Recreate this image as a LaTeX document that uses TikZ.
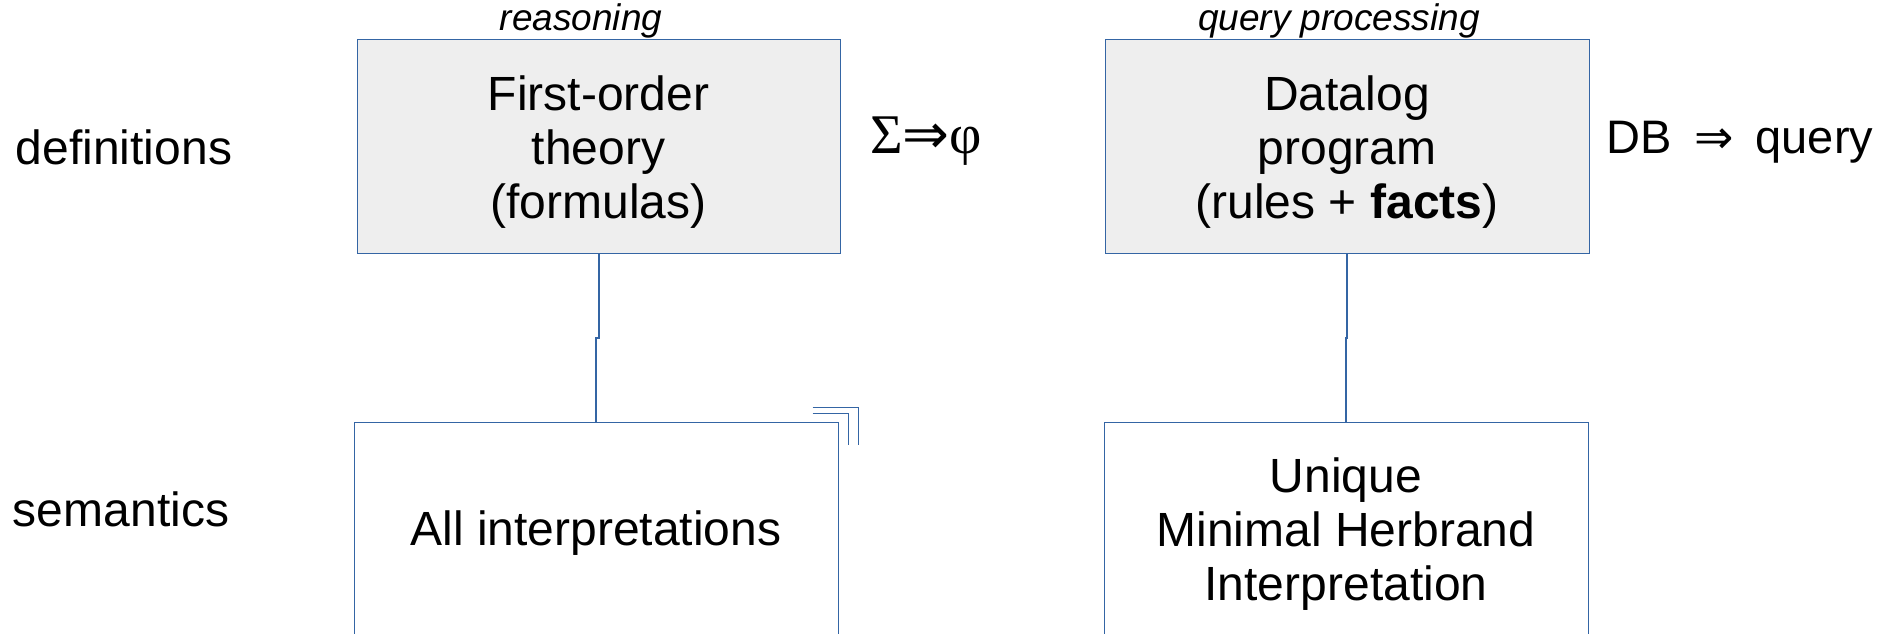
\documentclass[tikz,border=0pt]{standalone}
\usepackage{fontspec}
\setmainfont{Liberation Sans}
\newfontfamily\serifsym{Liberation Serif}
\newfontfamily\arrowfont{DejaVu Sans}
\usetikzlibrary{calc}

\definecolor{edgeblue}{HTML}{3465A4}
\definecolor{boxgray}{HTML}{EEEEEE}

\begin{document}
\begin{tikzpicture}[x=1pt,y=-1pt,
  box/.style={draw=edgeblue, line width=1pt, minimum height=213pt,
    inner sep=0pt, align=center, font=\fontsize{48}{54}\selectfont},
  defbox/.style={box, fill=boxgray},
  boxtext/.style={inner sep=0pt, align=center, font=\fontsize{48}{54}\selectfont},
  rowlabel/.style={inner sep=0pt, font=\fontsize{48}{54}\selectfont},
  collabel/.style={inner sep=0pt, anchor=base, font=\fontsize{37}{40}\selectfont\itshape},
  conn/.style={draw=edgeblue, line width=2pt},
  stack/.style={draw=edgeblue, line width=1.3pt}]
\useasboundingbox (0,0) rectangle (1895,634);
\clip (0,0) rectangle (1895,634);

% row labels
\node[rowlabel] (defs) at (124,147) {definitions};
\node[rowlabel] (sems) at (121,509) {semantics};

% column labels
\node[collabel] (reas) at (581,31) {reasoning};
\node[collabel] (qp) at (1339,31) {query processing};

% boxes
\node[defbox, minimum width=483pt] (fo) at (598.5,146.5) {};
\node[defbox, minimum width=484pt] (dl) at (1347,146.5) {};
\node[box, minimum width=484pt] (ai) at (596,528.5) {};
\node[box, minimum width=484pt] (mh) at (1346,528.5) {};

% box contents
\node[boxtext] (fot) at ($(fo.center)+(0,6)$) {First-order\\theory\\(formulas)};
\node[boxtext] (dlt) at ($(dl.center)+(0,6)$) {Datalog\\program\\(rules + \textbf{facts})};
\node[boxtext] (ait) at ($(ai.center)+(0,5)$) {All interpretations};
\node[boxtext] (mht) at ($(mh.center)+(0,6)$) {Unique\\Minimal Herbrand\\Interpretation};

% side formulas
\node[inner sep=0pt, font=\fontsize{56}{60}\selectfont] (ent) at (926,141)
  {{\serifsym Σ}{\arrowfont ⇒}{\serifsym φ}};
\node[inner sep=0pt, font=\fontsize{47}{54}\selectfont] (dbq) at (1740,142)
  {DB\hspace{9pt} {\arrowfont ⇒}\hspace{9pt} query};

% connectors
\draw[conn] (fo.south) -- ++(0,84.5) -| (ai.north);
\draw[conn] (dl.south) -- ++(0,84.5) -| (mh.north);

% stacked corner marks behind the interpretations box
\coordinate (c) at (ai.north east);
\draw[stack] ($(c)+(-26,-8)$) -- ($(c)+(10,-8)$) -- ($(c)+(10,23)$);
\draw[stack] ($(c)+(-26,-14)$) -- ($(c)+(20,-14)$) -- ($(c)+(20,23)$);
\end{tikzpicture}
\end{document}
